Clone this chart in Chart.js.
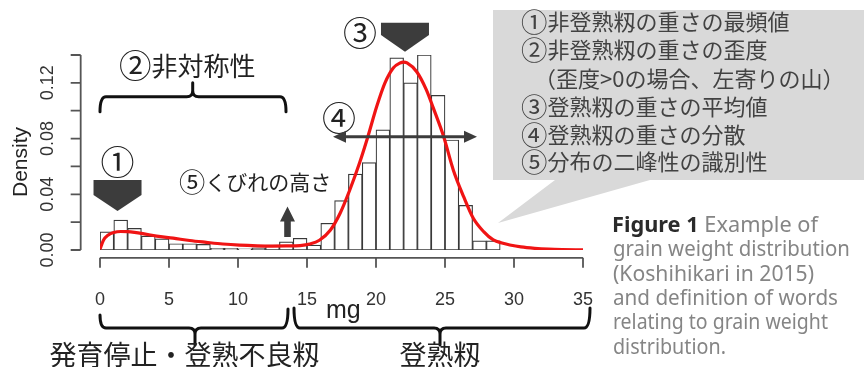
<!DOCTYPE html>
<html>
<head>
<meta charset="utf-8">
<script src="https://cdn.jsdelivr.net/npm/chart.js@4.4.1/dist/chart.umd.min.js"></script>
<style>
  html, body { margin: 0; padding: 0; background: #fff; overflow: hidden; }
  canvas { display: block; }
</style>
</head>
<body>
<canvas id="c" width="864" height="367"></canvas>
<script>
// Histogram of grain weight (1 mg bins), density scale
const binCenters = [0.5, 1.5, 2.5, 3.5, 4.5, 5.5, 6.5, 7.5, 8.5, 9.5, 10.5, 11.5, 12.5, 13.5, 14.5,
                    15.5, 16.5, 17.5, 18.5, 19.5, 20.5, 21.5, 22.5, 23.5, 24.5, 25.5, 26.5, 27.5, 28.5];
const binDensity = [0.013, 0.0215, 0.0155, 0.010, 0.008, 0.0045, 0.0045, 0.004, 0.0012, 0.0012, 0.0008, 0.0015, 0.0035, 0.0058, 0.0084,
                    0.0035, 0.0192, 0.0355, 0.0545, 0.0628, 0.0863, 0.138, 0.120, 0.140, 0.111, 0.079, 0.032, 0.0065, 0.0065];

// Fitted density curve
const curveMg = [0, 0.25, 0.6, 1.0, 1.5, 2.0, 2.5, 3.1, 4.1, 5.3, 6.5, 7.7, 8.9, 10.1, 11.4, 12.5, 13.5, 14.5,
                 15.2, 15.9, 16.7, 17.4, 18.1, 18.8, 19.4, 20.05, 20.65, 21.25, 21.75, 22.0, 22.25, 22.95, 23.65,
                 24.15, 24.9, 25.6, 26.35, 27.05, 27.8, 28.5, 29.2, 29.7, 30.5, 31.5, 32.5, 33.5, 35];
const curveDensity = [0.0005, 0.007, 0.0108, 0.0126, 0.0133, 0.0132, 0.0127, 0.0118, 0.0100, 0.0085, 0.0068, 0.0055, 0.0043, 0.0035, 0.0030, 0.0028, 0.0029, 0.0032,
                      0.0043, 0.0070, 0.0144, 0.0264, 0.0431, 0.0623, 0.081, 0.103, 0.120, 0.1307, 0.1343, 0.1349, 0.1343, 0.128, 0.115,
                      0.102, 0.0815, 0.0575, 0.0383, 0.0228, 0.0132, 0.0072, 0.0048, 0.0036, 0.0022, 0.0012, 0.0006, 0.0003, 0.0001];

// Axis ticks
const xTicks = [0, 5, 10, 15, 20, 25, 30, 35];
const xTickLabels = ['0', '5', '10', '15', '20', '25', '30', '35'];
const yTicks = [0, 0.02, 0.04, 0.06, 0.08, 0.10, 0.12, 0.14];
const yTickLabels = ['0.00', '', '0.04', '', '0.08', '', '0.12', ''];

// Text
const yTitle = 'Density';
const xUnit = 'mg';
const calloutLines = ['①非登熟籾の重さの最頻値', '②非登熟籾の重さの歪度', '（歪度>0の場合、左寄りの山）',
                      '③登熟籾の重さの平均値', '④登熟籾の重さの分散', '⑤分布の二峰性の識別性'];
const captionTitle = 'Figure 1';
const captionLines = [' Example of', 'grain weight distribution', '(Koshihikari in 2015)',
                      'and definition of words', 'relating to grain weight', 'distribution.'];
const groupLow = '発育停止・登熟不良籾';
const groupHigh = '登熟籾';

const JP = '"Noto Sans CJK JP", "Noto Sans CJK SC", sans-serif';
const LAT = '"Liberation Sans", Arial, sans-serif';
const CAP = '"Noto Sans", "Open Sans", sans-serif';

// Draws text left-aligned, giving circled digits a larger glyph
function richText(ctx, text, x, y, size, circleScale) {
  let cx = x;
  for (const ch of text) {
    const code = ch.codePointAt(0);
    const circ = code >= 0x2460 && code <= 0x2473;
    ctx.font = (circ ? size * circleScale : size) + 'px ' + JP;
    ctx.fillText(ch, cx, y);
    cx += ctx.measureText(ch).width;
  }
  return cx;
}

function pentagon(ctx, cx, top, halfW, shoulder, tip) {
  ctx.beginPath();
  ctx.moveTo(cx - halfW, top);
  ctx.lineTo(cx + halfW, top);
  ctx.lineTo(cx + halfW, shoulder);
  ctx.lineTo(cx, tip);
  ctx.lineTo(cx - halfW, shoulder);
  ctx.closePath();
  ctx.fill();
}

// Curly brace: ends at yEnd, horizontal run at yLine, centre spike to yTip
function brace(ctx, x0, x1, yEndL, yEndR, yLine, xm, yTip, r) {
  const s = Math.sign(yTip - yLine);
  ctx.beginPath();
  ctx.moveTo(x0, yEndL);
  ctx.quadraticCurveTo(x0, yLine, x0 + r, yLine);
  ctx.lineTo(xm - r, yLine);
  ctx.quadraticCurveTo(xm, yLine, xm, yLine + s * r);
  ctx.lineTo(xm, yTip);
  ctx.moveTo(xm, yLine + s * r);
  ctx.quadraticCurveTo(xm, yLine, xm + r, yLine);
  ctx.lineTo(x1 - r, yLine);
  ctx.quadraticCurveTo(x1, yLine, x1, yEndR);
  ctx.stroke();
}

function hArrow(ctx, xa, xb, yy, head, half, lw) {
  ctx.lineWidth = lw;
  ctx.beginPath();
  ctx.moveTo(xa + head - 1, yy);
  ctx.lineTo(xb - head + 1, yy);
  ctx.stroke();
  ctx.beginPath();
  ctx.moveTo(xa, yy); ctx.lineTo(xa + head, yy - half); ctx.lineTo(xa + head, yy + half); ctx.closePath();
  ctx.fill();
  ctx.beginPath();
  ctx.moveTo(xb, yy); ctx.lineTo(xb - head, yy - half); ctx.lineTo(xb - head, yy + half); ctx.closePath();
  ctx.fill();
}

const overlay = {
  id: 'overlay',
  afterDraw(chart) {
    const ctx = chart.ctx;
    const { x, y } = chart.scales;
    const px = v => x.getPixelForValue(v);
    const py = v => y.getPixelForValue(v);
    ctx.save();

    // --- axes, offset from the data region ---
    const axisX = px(-1.4);
    const axisY = py(-0.0056);
    ctx.strokeStyle = '#555';
    ctx.lineWidth = 1.8;
    ctx.beginPath();
    ctx.moveTo(axisX, py(yTicks[0]));
    ctx.lineTo(axisX, py(yTicks[yTicks.length - 1]));
    yTicks.forEach(t => { ctx.moveTo(axisX, py(t)); ctx.lineTo(axisX - 10, py(t)); });
    ctx.moveTo(px(xTicks[0]), axisY);
    ctx.lineTo(px(xTicks[xTicks.length - 1]), axisY);
    xTicks.forEach(t => { ctx.moveTo(px(t), axisY); ctx.lineTo(px(t), axisY + 10); });
    ctx.stroke();

    ctx.fillStyle = '#333';
    ctx.font = '18px ' + LAT;
    ctx.textAlign = 'center';
    ctx.textBaseline = 'alphabetic';
    xTicks.forEach((t, i) => ctx.fillText(xTickLabels[i], px(t), 305));
    yTicks.forEach((t, i) => {
      if (!yTickLabels[i]) return;
      ctx.save();
      ctx.translate(53, py(t));
      ctx.rotate(-Math.PI / 2);
      ctx.fillText(yTickLabels[i], 0, 0);
      ctx.restore();
    });
    ctx.fillStyle = '#222';
    ctx.font = '21px ' + LAT;
    ctx.save();
    ctx.translate(27, 162);
    ctx.rotate(-Math.PI / 2);
    ctx.fillText(yTitle, 0, 0);
    ctx.restore();
    ctx.font = '25px ' + LAT;
    ctx.textAlign = 'left';
    ctx.fillText(xUnit, 326, 318);

    // --- annotations inside the plot ---
    ctx.fillStyle = '#3c3c3c';
    pentagon(ctx, px(1.27), 180, 24, 195, 211);
    pentagon(ctx, px(22.1), 22.7, 24, 35, 51.7);

    ctx.fillStyle = '#222';
    ctx.textAlign = 'center';
    ctx.textBaseline = 'middle';
    ctx.font = '34px ' + JP;
    ctx.fillText('①', px(1.27), 162);
    ctx.fillText('③', 360, 33);
    ctx.fillText('④', 339, 118);
    ctx.textAlign = 'left';
    richText(ctx, '②非対称性', 119, 66, 26, 1.25);
    richText(ctx, '⑤くびれの高さ', 179, 182, 21, 1.25);

    // spread arrow and valley arrow
    ctx.fillStyle = '#3c3c3c';
    ctx.strokeStyle = '#3c3c3c';
    hArrow(ctx, 333, 477, 136.7, 13, 6, 3);
    ctx.beginPath();
    ctx.moveTo(287.5, 206.5);
    ctx.lineTo(295, 221.5);
    ctx.lineTo(290.8, 221.5);
    ctx.lineTo(290.8, 237);
    ctx.lineTo(284.2, 237);
    ctx.lineTo(284.2, 221.5);
    ctx.lineTo(280, 221.5);
    ctx.closePath();
    ctx.fill();

    // braces
    ctx.strokeStyle = '#111';
    ctx.lineWidth = 3;
    ctx.lineCap = 'round';
    ctx.lineJoin = 'round';
    brace(ctx, 100, 286, 111.7, 111.7, 96.7, 192.7, 82.7, 6);
    brace(ctx, 100, 288, 315, 309, 328, 195, 345, 6);
    brace(ctx, 294, 590, 308, 308, 328, 440, 345, 6);

    ctx.fillStyle = '#222';
    ctx.font = '27px ' + JP;
    ctx.textAlign = 'center';
    ctx.fillText(groupLow, 184.5, 355);
    ctx.fillText(groupHigh, 440, 355);

    // --- callout box ---
    ctx.fillStyle = '#d9d9d9';
    ctx.beginPath();
    ctx.moveTo(493, 10);
    ctx.lineTo(864, 10);
    ctx.lineTo(864, 180);
    ctx.lineTo(650, 180);
    ctx.lineTo(498, 223);
    ctx.lineTo(555, 180);
    ctx.lineTo(493, 180);
    ctx.closePath();
    ctx.fill();

    ctx.fillStyle = '#424242';
    ctx.textAlign = 'left';
    ctx.textBaseline = 'middle';
    const lineY = [21.7, 50, 78.5, 107, 135, 162];
    calloutLines.forEach((t, i) => richText(ctx, t, i === 2 ? 534 : 521, lineY[i], 22, 1.2));

    // --- caption, each line fitted to its set width ---
    ctx.textBaseline = 'alphabetic';
    const capY = [232, 256.3, 280.6, 304.9, 329.2, 353.5];
    const capW = [206, 237, 201, 225, 215, 113];
    for (let i = 0; i < captionLines.length; i++) {
      ctx.save();
      ctx.translate(612, 0);
      let tw = 0;
      ctx.font = 'bold 21px ' + CAP;
      if (i === 0) tw = ctx.measureText(captionTitle).width;
      ctx.font = '21px ' + CAP;
      const w = tw + ctx.measureText(captionLines[i]).width;
      ctx.scale(capW[i] / w, 1);
      if (i === 0) {
        ctx.font = 'bold 21px ' + CAP;
        ctx.fillStyle = '#2a2a2a';
        ctx.fillText(captionTitle, 0, capY[0]);
        ctx.font = '21px ' + CAP;
      }
      ctx.fillStyle = '#858585';
      ctx.fillText(captionLines[i], tw + (i ? 1 : 0), capY[i]);
      ctx.restore();
    }

    ctx.restore();
  }
};

new Chart(document.getElementById('c'), {
  type: 'bar',
  data: {
    datasets: [
      {
        type: 'line',
        data: curveMg.map((m, i) => ({ x: m, y: curveDensity[i] })),
        borderColor: '#f01414',
        borderWidth: 3.2,
        pointRadius: 0,
        cubicInterpolationMode: 'monotone',
        fill: false,
        order: 0
      },
      {
        type: 'bar',
        data: binCenters.map((m, i) => ({ x: m, y: binDensity[i] })),
        backgroundColor: '#ffffff',
        borderColor: '#383838',
        borderWidth: 1.2,
        borderSkipped: false,
        barPercentage: 1,
        categoryPercentage: 1,
        order: 1
      }
    ]
  },
  options: {
    responsive: false,
    animation: false,
    devicePixelRatio: 1,
    events: [],
    layout: { padding: { left: 100, right: 281, top: 55, bottom: 117 } },
    scales: {
      x: { type: 'linear', min: 0, max: 35, offset: false, display: false, ticks: { stepSize: 5 } },
      y: { type: 'linear', min: 0, max: 0.14, display: false }
    },
    plugins: { legend: { display: false }, tooltip: { enabled: false } }
  },
  plugins: [overlay]
});
</script>
</body>
</html>
